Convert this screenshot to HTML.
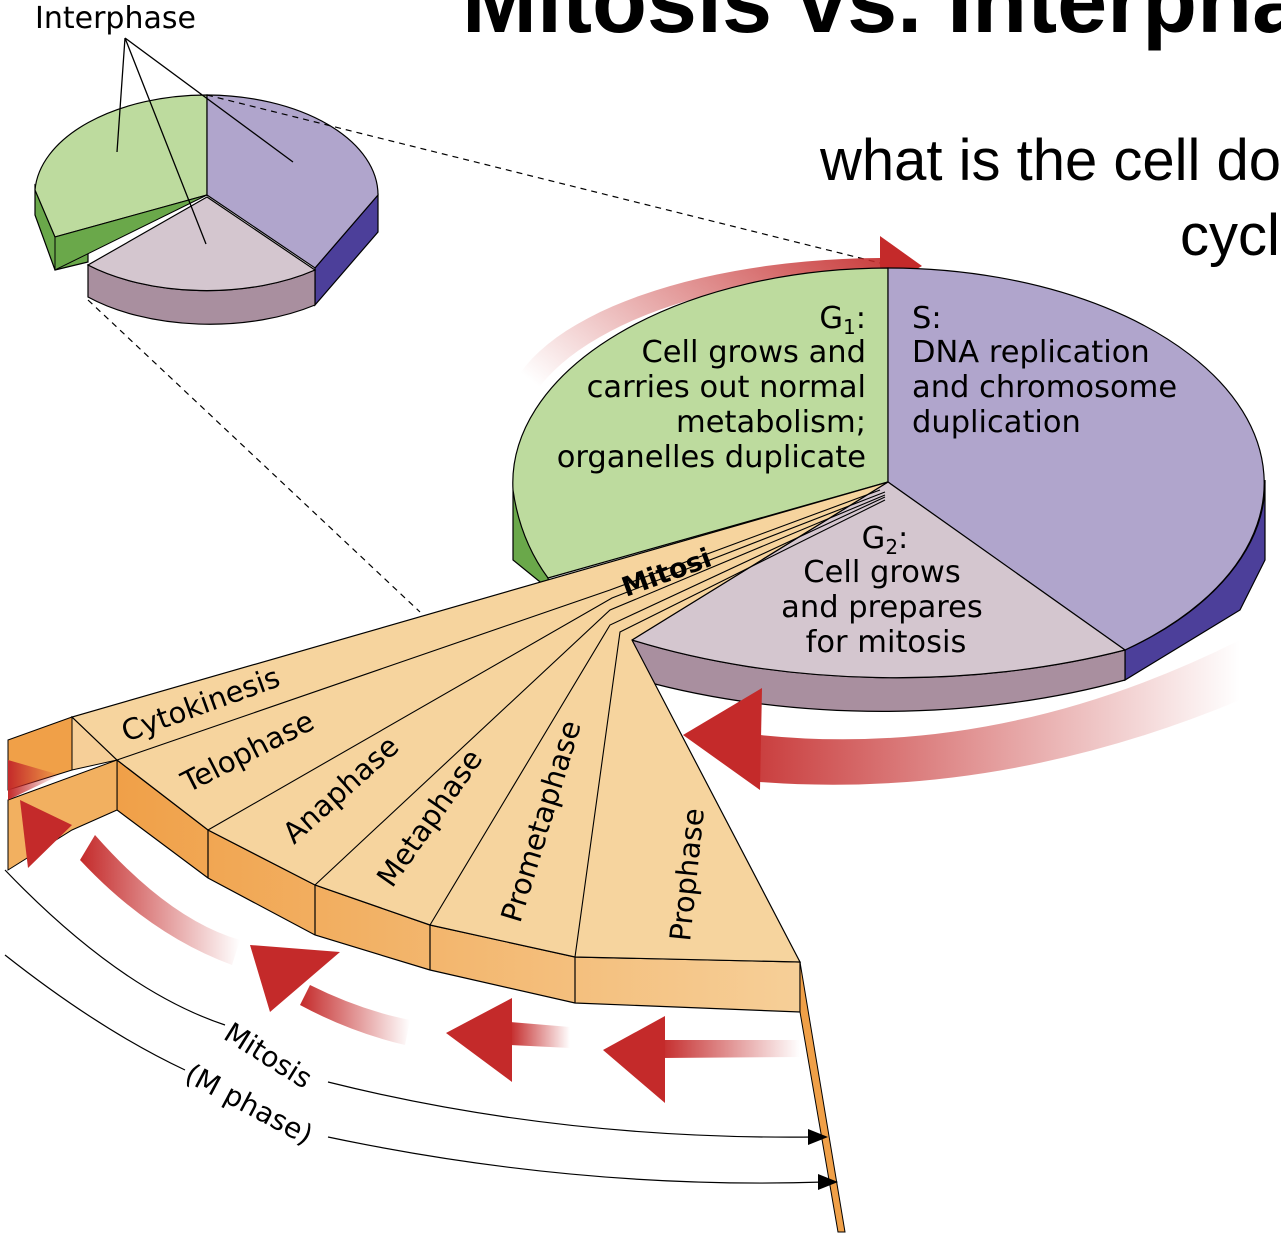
<!DOCTYPE html>
<html><head><meta charset="utf-8"><style>
html,body{margin:0;padding:0;background:#fff;width:1281px;height:1233px;overflow:hidden}
svg{display:block}
text{font-family:"DejaVu Sans","Liberation Sans",sans-serif}
.t{font-family:"Liberation Sans",sans-serif}
</style></head><body>
<svg width="1281" height="1233" viewBox="0 0 1281 1233" xmlns="http://www.w3.org/2000/svg">
<defs>
<linearGradient id="rg" x1="0" y1="0" x2="1" y2="0"><stop offset="0" stop-color="#c42a2a"/><stop offset="1" stop-color="#c42a2a" stop-opacity="0"/></linearGradient>
<linearGradient id="rgt" x1="1" y1="0" x2="0" y2="0.6"><stop offset="0" stop-color="#c42a2a"/><stop offset="1" stop-color="#c42a2a" stop-opacity="0"/></linearGradient>
<linearGradient id="og" x1="0" y1="0" x2="1" y2="0"><stop offset="0" stop-color="#f0a048"/><stop offset="1" stop-color="#f6cf98"/></linearGradient>
</defs>

<text class="t" x="462" y="32" font-size="90" font-weight="bold">Mitosis vs. Interphase</text>
<text class="t" x="820" y="180" font-size="58">what is the cell doing</text>
<text class="t" x="1180" y="255" font-size="58">cycle</text>
<text x="35" y="28" font-size="30">Interphase</text>

<path d="M35,185 L35,215 L55,270 L88,262 L88,232 Z" fill="#6aa84a" stroke="#000" stroke-width="1.2"/>
<path d="M207,95 A172,100 0 0 0 35,190 L55,237 L207,195 Z" fill="#bddb9e" stroke="#000" stroke-width="1.2"/>
<path d="M55,237 L55,270 L207,195 Z" fill="#6aa84a" stroke="#000" stroke-width="1"/>
<path d="M378,195 L378,232 L315,305 L315,268 Z" fill="#4c3f9a" stroke="#000" stroke-width="1.2"/>
<path d="M207,95 A172,100 0 0 1 378,195 L315,268 L207,195 Z" fill="#b0a5cc" stroke="#000" stroke-width="1.2"/>
<path d="M88,265 L88,297 A170,90 0 0 0 315,305 L315,270 A170,90 0 0 1 88,265 Z" fill="#a98f9f" stroke="#000" stroke-width="1.2"/>
<path d="M207,197 L88,265 A170,90 0 0 0 315,270 Z" fill="#d4c6cf" stroke="#000" stroke-width="1.2"/>
<path d="M125,38 L117,152 M125,38 L206,244 M125,38 L293,162" stroke="#000" stroke-width="1.3" fill="none"/>
<path d="M207,95 L888,265 M88,300 L420,612" stroke="#000" stroke-width="1.2" stroke-dasharray="6,5" fill="none"/>

<path d="M505,420 A380,160 0 0 1 880,258 L880,272 A380,170 0 0 0 520,430 Z" fill="url(#rgt)" opacity="0.9"/>
<path d="M880,236 L922,266 L880,290 Z" fill="#c42a2a"/>

<path d="M513,490 L513,560 L550,590 L548,578 Z" fill="#6aa84a" stroke="#000" stroke-width="1.2"/>
<path d="M1265,480 L1265,560 L1240,610 L1125,680 L1125,650 A376,215 0 0 0 1265,480 Z" fill="#4c3f9a" stroke="#000" stroke-width="1.2"/>
<path d="M632,640 L640,680 A500,250 0 0 0 1125,680 L1125,650 A500,250 0 0 1 632,640 Z" fill="#a98f9f" stroke="#000" stroke-width="1.2"/>
<path d="M888,268 A376,215 0 0 0 513,490 Q520,540 548,578 L888,482 Z" fill="#bddb9e" stroke="#000" stroke-width="1.2"/>
<path d="M888,268 A376,215 0 0 1 1125,650 L888,482 Z" fill="#b0a5cc" stroke="#000" stroke-width="1.2"/>
<path d="M888,482 L1125,650 A500,250 0 0 1 632,640 Z" fill="#d4c6cf" stroke="#000" stroke-width="1.2"/>

<path d="M760,735 Q1000,760 1240,640 L1240,700 Q1000,800 760,782 Z" fill="url(#rg)" opacity="0.9"/>
<path d="M762,688 L683,735 L760,790 Z" fill="#c42a2a"/>

<path d="M117,760 L208,830 L315,885 L430,925 L575,957 L800,962 L800,1012 L575,1003 L430,970 L315,935 L208,878 L117,810 Z" fill="url(#og)" stroke="#000" stroke-width="1.2"/>
<path d="M208,830V878 M315,885V935 M430,925V970 M575,957V1003" stroke="#000" stroke-width="1.2"/>
<path d="M8,740 L72,717 L72,770 L40,780 L8,790 Z" fill="#f0a048" stroke="#000" stroke-width="1"/>
<path d="M8,800 L117,760 L117,810 L72,830 L8,870 Z" fill="#f2b060" stroke="#000" stroke-width="1"/>
<path d="M72,717 L117,760 L72,770 Z" fill="#f6cf98" stroke="#000" stroke-width="1"/>
<path d="M800,962 L845,1232 L838,1232 L800,1012 Z" fill="#f0a048" stroke="#000" stroke-width="1"/>

<path d="M888,482 L72,717 L117,760 L208,830 L315,885 L430,925 L575,957 L800,962 L632,640 Z" fill="#f6d49e" stroke="#000" stroke-width="1.2"/>
<g stroke="#000" stroke-width="1.1" fill="none">
<path d="M117,760 L610,590 L880,490"/>
<path d="M208,830 L612,598 L885,492"/>
<path d="M315,885 L610,610 L885,495"/>
<path d="M430,925 L610,625 L885,497"/>
<path d="M575,957 L620,632 L885,500"/>
</g>
<text transform="translate(626,597) rotate(-20)" font-size="27" font-weight="bold">Mitosi</text>

<text transform="translate(126,742) rotate(-20)" font-size="29">Cytokinesis</text>
<text transform="translate(188,793) rotate(-27)" font-size="29">Telophase</text>
<text transform="translate(294,845) rotate(-42)" font-size="29">Anaphase</text>
<text transform="translate(392,889) rotate(-55)" font-size="29">Metaphase</text>
<text transform="translate(520,924) rotate(-73)" font-size="29">Prometaphase</text>
<text transform="translate(690,942) rotate(-84)" font-size="29">Prophase</text>

<path d="M95,835 Q170,920 240,940 L232,965 Q150,935 80,860 Z" fill="url(#rg)"/>
<path d="M20,800 L72,825 L28,868 Z" fill="#c42a2a"/>
<path d="M8,760 L60,775 L8,800 Z" fill="url(#rg)"/>
<path d="M310,985 Q360,1010 410,1020 L405,1045 Q350,1032 300,1005 Z" fill="url(#rg)"/>
<path d="M250,945 L340,952 L270,1012 Z" fill="#c42a2a"/>
<path d="M510,1022 L570,1027 L570,1048 L510,1045 Z" fill="url(#rg)"/>
<path d="M446,1033 L512,998 L512,1082 Z" fill="#c42a2a"/>
<path d="M660,1040 L800,1040 L800,1057 L660,1058 Z" fill="url(#rg)"/>
<path d="M603,1050 L665,1016 L665,1103 Z" fill="#c42a2a"/>

<g stroke="#000" stroke-width="1.2" fill="none">
<path d="M5,870 Q120,990 225,1025"/>
<path d="M328,1082 Q560,1140 815,1137"/>
<path d="M5,955 Q100,1030 185,1070"/>
<path d="M328,1137 Q580,1190 825,1182"/>
</g>
<path d="M828,1137 L808,1129 L808,1145 Z M838,1182 L818,1174 L818,1190 Z"/>
<text transform="translate(222,1038) rotate(32)" font-size="28">Mitosis</text>
<text transform="translate(183,1080) rotate(28)" font-size="28">(M phase)</text>

<g font-size="30.5" text-anchor="end">
<text x="866" y="328">G<tspan font-size="20" dy="6">1</tspan><tspan dy="-6">:</tspan></text>
<text x="866" y="362">Cell grows and</text>
<text x="866" y="397">carries out normal</text>
<text x="866" y="432">metabolism;</text>
<text x="866" y="467">organelles duplicate</text>
</g>
<g font-size="30.5">
<text x="912" y="328">S:</text>
<text x="912" y="362">DNA replication</text>
<text x="912" y="397">and chromosome</text>
<text x="912" y="432">duplication</text>
</g>
<g font-size="30.5" text-anchor="middle">
<text x="885" y="548">G<tspan font-size="20" dy="6">2</tspan><tspan dy="-6">:</tspan></text>
<text x="882" y="582">Cell grows</text>
<text x="882" y="617">and prepares</text>
<text x="886" y="652">for mitosis</text>
</g>
</svg>
</body></html>
